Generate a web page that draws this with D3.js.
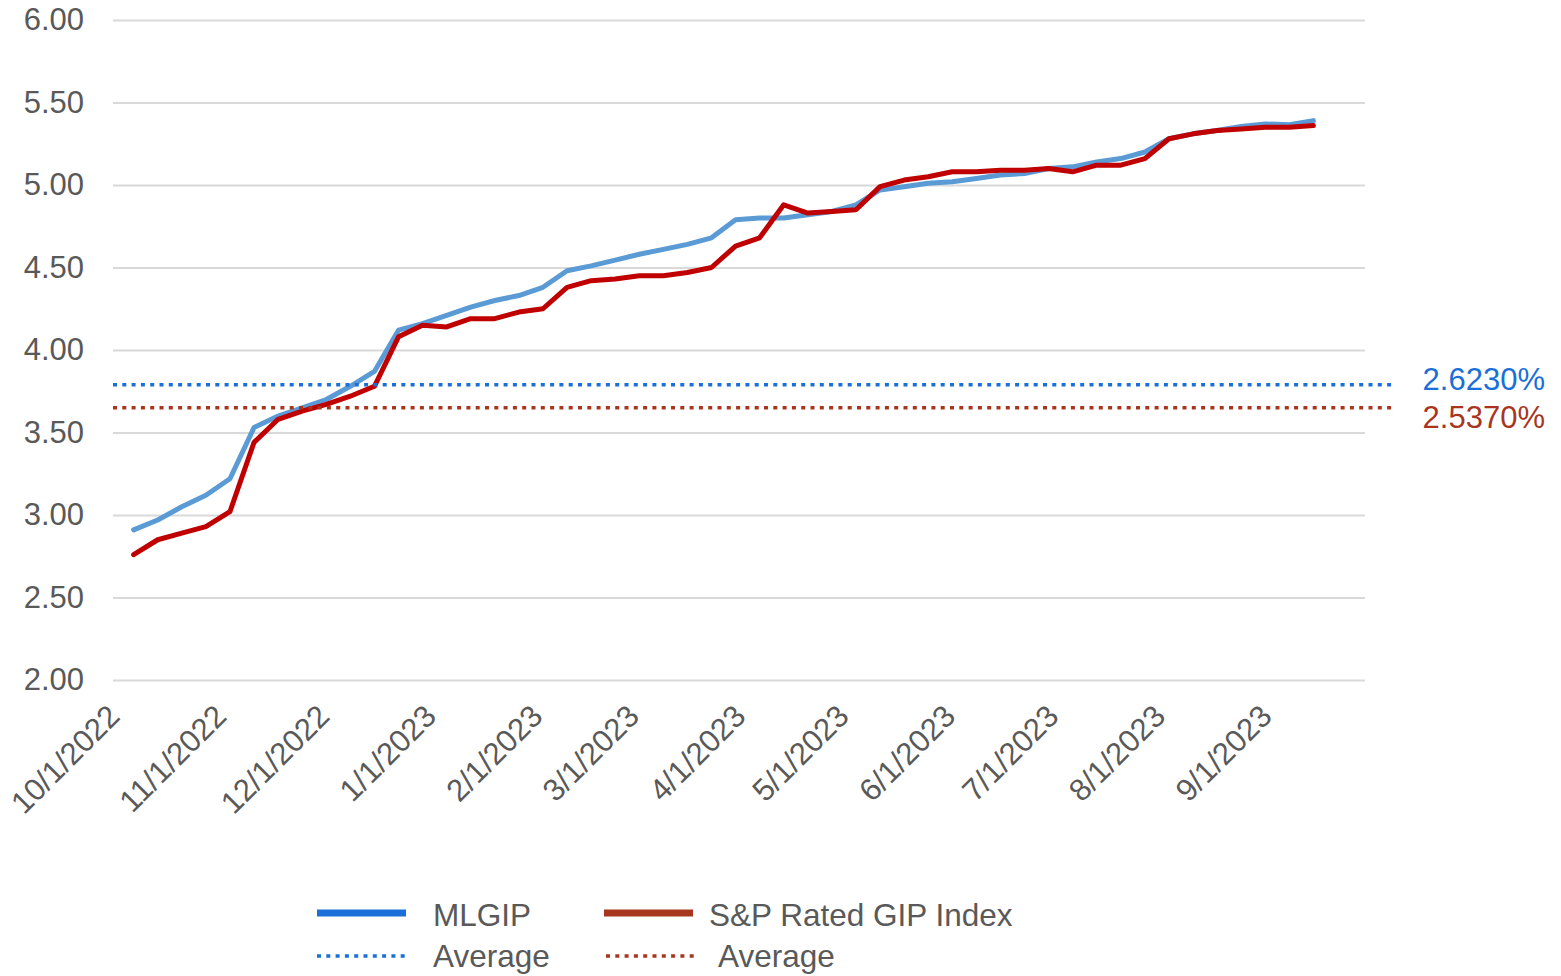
<!DOCTYPE html>
<html>
<head>
<meta charset="utf-8">
<script src="https://cdn.jsdelivr.net/npm/d3@7"></script>
<style>
  body { margin: 0; background: #fff; }
  text { font-family: Arial, "Liberation Sans", sans-serif; }
</style>
</head>
<body>
<div id="chart"></div>
<script>
  // Weekly observation dates
  const dates = [
    '2022-10-07', '2022-10-14', '2022-10-21', '2022-10-28', '2022-11-04', '2022-11-11', '2022-11-18',
    '2022-11-25', '2022-12-02', '2022-12-09', '2022-12-16', '2022-12-23', '2022-12-30', '2023-01-06',
    '2023-01-13', '2023-01-20', '2023-01-27', '2023-02-03', '2023-02-10', '2023-02-17', '2023-02-24',
    '2023-03-03', '2023-03-10', '2023-03-17', '2023-03-24', '2023-03-31', '2023-04-07', '2023-04-14',
    '2023-04-21', '2023-04-28', '2023-05-05', '2023-05-12', '2023-05-19', '2023-05-26', '2023-06-02',
    '2023-06-09', '2023-06-16', '2023-06-23', '2023-06-30', '2023-07-07', '2023-07-14', '2023-07-21',
    '2023-07-28', '2023-08-04', '2023-08-11', '2023-08-18', '2023-08-25', '2023-09-01', '2023-09-08',
    '2023-09-15'
  ];

  const mlgip = [
    2.91, 2.97, 3.05, 3.12, 3.22, 3.53, 3.60, 3.65, 3.70, 3.78,
    3.87, 4.12, 4.16, 4.21, 4.26, 4.30, 4.33, 4.38, 4.48, 4.51,
    4.545, 4.58, 4.61, 4.64, 4.68, 4.79, 4.80, 4.80, 4.82, 4.84,
    4.88, 4.97, 4.99, 5.01, 5.02, 5.04, 5.06, 5.07, 5.10, 5.11,
    5.14, 5.16, 5.20, 5.28, 5.31, 5.33, 5.355, 5.37, 5.365, 5.39
  ];

  const spIndex = [
    2.76, 2.85, 2.89, 2.93, 3.02, 3.44, 3.58, 3.63, 3.67, 3.72,
    3.78, 4.08, 4.15, 4.14, 4.19, 4.19, 4.23, 4.25, 4.38, 4.42,
    4.43, 4.45, 4.45, 4.47, 4.50, 4.63, 4.68, 4.88, 4.83, 4.84,
    4.85, 4.99, 5.03, 5.05, 5.08, 5.08, 5.09, 5.09, 5.10, 5.08,
    5.12, 5.12, 5.16, 5.28, 5.31, 5.33, 5.34, 5.35, 5.35, 5.36
  ];

  // Average lines: plotted level and printed label
  const averageLevels = [3.79, 3.65];
  const averageLabels = ['2.6230%', '2.5370%'];

  const yTicks = [2.0, 2.5, 3.0, 3.5, 4.0, 4.5, 5.0, 5.5, 6.0];
  const xTicks = [
    '2022-10-01', '2022-11-01', '2022-12-01', '2023-01-01', '2023-02-01', '2023-03-01',
    '2023-04-01', '2023-05-01', '2023-06-01', '2023-07-01', '2023-08-01', '2023-09-01'
  ];
  const xDomain = ['2022-10-01', '2023-09-30'];

  const legendNames = ['MLGIP', 'S&P Rated GIP Index'];

  // Layout
  const width = 1561;
  const height = 976;
  const plotLeft = 113, plotRight = 1365, plotTop = 20, plotBottom = 680;
  const textColor = '#595959';
  const fontSize = '31px';
  const lineColors = ['#5b9bd5', '#c00000'];
  const keyColors = ['#1a70d8', '#a8361f'];

  const parse = d3.utcParse('%Y-%m-%d');
  const fmt = d => `${d.getUTCMonth() + 1}/${d.getUTCDate()}/${d.getUTCFullYear()}`;

  const x = d3.scaleUtc()
    .domain(xDomain.map(parse))
    .range([plotLeft, plotRight]);

  const y = d3.scaleLinear()
    .domain([2, 6])
    .range([plotBottom, plotTop]);

  const svg = d3.select('#chart')
    .append('svg')
    .attr('width', width)
    .attr('height', height);

  svg.append('rect')
    .attr('width', width)
    .attr('height', height)
    .attr('fill', '#fff');

  // Horizontal grid + y labels
  const yAxis = svg.append('g')
    .attr('transform', `translate(${plotLeft},0)`)
    .call(d3.axisLeft(y)
      .tickValues(yTicks)
      .tickFormat(d3.format('.2f'))
      .tickSize(-(plotRight - plotLeft))
      .tickPadding(29));
  yAxis.select('.domain').remove();
  yAxis.selectAll('.tick line')
    .attr('stroke', '#d9d9d9')
    .attr('stroke-width', 2);
  yAxis.selectAll('.tick text')
    .attr('fill', textColor)
    .attr('font-size', fontSize)
    .attr('font-family', 'Arial, "Liberation Sans", sans-serif');

  // X axis labels, rotated
  const xAxis = svg.append('g')
    .attr('transform', `translate(0,${plotBottom})`)
    .call(d3.axisBottom(x)
      .tickValues(xTicks.map(parse))
      .tickFormat(fmt)
      .tickSize(0));
  xAxis.select('.domain').remove();
  xAxis.selectAll('.tick text')
    .attr('fill', textColor)
    .attr('font-size', fontSize)
    .attr('font-family', 'Arial, "Liberation Sans", sans-serif')
    .attr('text-anchor', 'end')
    .attr('y', 0)
    .attr('dy', 0)
    .attr('transform', 'translate(8,38) rotate(-45)');

  // Series lines
  const series = [mlgip, spIndex];
  const line = d3.line()
    .x((d, i) => x(parse(dates[i])))
    .y(d => y(d));

  series.forEach(function (values, k) {
    svg.append('path')
      .datum(values)
      .attr('fill', 'none')
      .attr('stroke', lineColors[k])
      .attr('stroke-width', 5)
      .attr('stroke-linejoin', 'round')
      .attr('stroke-linecap', 'round')
      .attr('d', line);
  });

  // Average lines and their labels
  const labelY = [390, 428];
  averageLevels.forEach(function (v, k) {
    svg.append('line')
      .attr('x1', plotLeft)
      .attr('x2', 1396)
      .attr('y1', y(v))
      .attr('y2', y(v))
      .attr('stroke', keyColors[k])
      .attr('stroke-width', 3.5)
      .attr('stroke-dasharray', '4,5.3');

    svg.append('text')
      .attr('x', 1545)
      .attr('y', labelY[k])
      .attr('text-anchor', 'end')
      .attr('font-size', fontSize)
      .attr('fill', keyColors[k])
      .text(averageLabels[k]);
  });

  // Legend
  const legend = svg.append('g');
  const keyX = [317, 604];
  const labelX = [433, 709];
  legendNames.forEach(function (name, k) {
    legend.append('line')
      .attr('x1', keyX[k]).attr('x2', keyX[k] + 89)
      .attr('y1', 913).attr('y2', 913)
      .attr('stroke', keyColors[k])
      .attr('stroke-width', 7);
    legend.append('text')
      .attr('x', labelX[k]).attr('y', 926)
      .attr('font-size', '31.5px')
      .attr('fill', textColor)
      .text(name);

    legend.append('line')
      .attr('x1', keyX[k] + 2 * k).attr('x2', keyX[k] + 2 * k + 89)
      .attr('y1', 956).attr('y2', 956)
      .attr('stroke', keyColors[k])
      .attr('stroke-width', 3.5)
      .attr('stroke-dasharray', '4,5.3');
    legend.append('text')
      .attr('x', labelX[k] + 9 * k).attr('y', 967)
      .attr('font-size', '31.5px')
      .attr('fill', textColor)
      .text('Average');
  });
</script>
</body>
</html>
